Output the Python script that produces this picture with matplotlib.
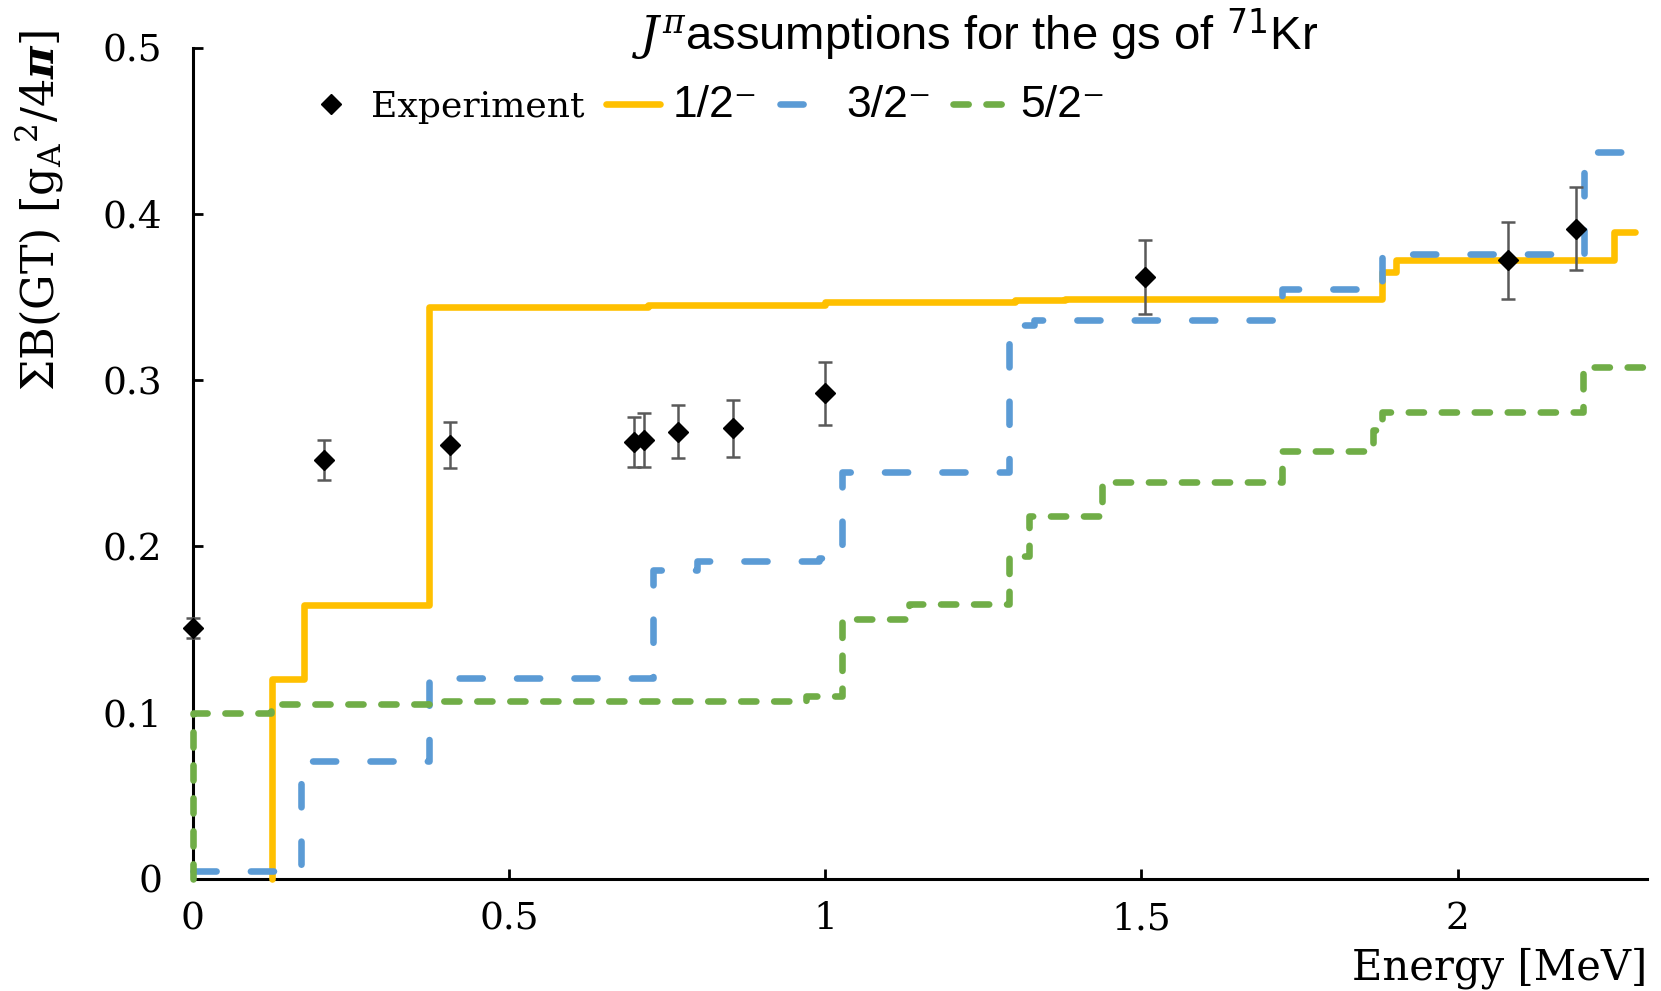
import matplotlib
matplotlib.use("Agg")
import matplotlib.pyplot as plt
from matplotlib.lines import Line2D

# Measured cumulative Gamow-Teller strength
energy_exp = [0.0, 0.208, 0.407, 0.698, 0.713, 0.768, 0.855, 0.999, 1.505, 2.080, 2.187]
bgt_exp = [0.151, 0.252, 0.261, 0.263, 0.264, 0.269, 0.271, 0.292, 0.362, 0.372, 0.391]
err_exp = [0.006, 0.012, 0.014, 0.015, 0.016, 0.016, 0.017, 0.019, 0.022, 0.023, 0.025]

# Shell-model cumulative strength for each ground-state spin assumption
energy_half = [0.125, 0.125, 0.176, 0.373, 0.72, 1.00, 1.30, 1.38, 1.88, 1.903, 2.247, 2.28]
bgt_half = [0.0, 0.120, 0.165, 0.344, 0.345, 0.347, 0.348, 0.349, 0.365, 0.372, 0.389, 0.389]

energy_3half = [0.0, 0.171, 0.373, 0.727, 0.797, 0.99, 1.027, 1.29, 1.33, 1.722, 1.88, 2.20, 2.275]
bgt_3half = [0.005, 0.071, 0.121, 0.186, 0.191, 0.193, 0.245, 0.333, 0.336, 0.355, 0.376, 0.437, 0.437]

energy_5half = [0.0, 0.0, 0.123, 0.373, 0.969, 1.027, 1.132, 1.29, 1.323, 1.438, 1.723, 1.866, 1.88, 2.198, 2.298]
bgt_5half = [0.0, 0.100, 0.105, 0.107, 0.110, 0.156, 0.1655, 0.194, 0.218, 0.2386, 0.2575, 0.270, 0.281, 0.308, 0.308]

x_ticks = [0, 0.5, 1, 1.5, 2]
x_tick_labels = ["0", "0.5", "1", "1.5", "2"]
y_ticks = [0, 0.1, 0.2, 0.3, 0.4, 0.5]
y_tick_labels = ["0", "0.1", "0.2", "0.3", "0.4", "0.5"]

legend_labels = ["Experiment", "1/2\u207b", "3/2\u207b", "5/2\u207b"]

plt.rcParams["font.family"] = ["DejaVu Serif"]
plt.rcParams["mathtext.fontset"] = "dejavuserif"

fig = plt.figure(figsize=(16.61, 9.91), dpi=100)
ax = fig.add_axes([0.1161, 0.1132, 0.8756, 0.8387])

lw = 4.75
yellow, blue, green = "#FFC000", "#5B9BD5", "#70AD47"

l_half, = ax.plot(energy_half, bgt_half, drawstyle="steps-post", color=yellow, lw=lw,
                  solid_capstyle="round", zorder=3, clip_on=False)
l_3half, = ax.plot(energy_3half, bgt_3half, drawstyle="steps-post", color=blue, lw=lw,
                   dashes=(3.5, 5.2), dash_capstyle="round", zorder=3.1, clip_on=False)
l_5half, = ax.plot(energy_5half, bgt_5half, drawstyle="steps-post", color=green, lw=lw,
                   dashes=(2.3, 2.7), dash_capstyle="round", zorder=3.2, clip_on=False)

eb = ax.errorbar(energy_exp, bgt_exp, yerr=err_exp, fmt="D", color="black", ms=10.5,
                 ecolor="#595959", elinewidth=1.8, capsize=5, capthick=1.8, zorder=4)
eb[0].set_clip_on(False)
for art in list(eb[1]) + list(eb[2]):
    art.set_clip_on(False)

ax.set_xlim(0, 2.3)
ax.set_ylim(0, 0.5)
ax.set_xticks(x_ticks)
ax.set_xticklabels(x_tick_labels)
ax.set_yticks(y_ticks)
ax.set_yticklabels(y_tick_labels)

for side in ("top", "right"):
    ax.spines[side].set_visible(False)
for side in ("left", "bottom"):
    ax.spines[side].set_linewidth(2.2)
    ax.spines[side].set_color("black")
    ax.spines[side].set_zorder(2)

ax.tick_params(axis="both", direction="in", length=7, width=2, labelsize=27)
ax.tick_params(axis="x", pad=16)
ax.tick_params(axis="y", pad=22)

ax.set_xlabel("Energy [MeV]", fontsize=30, ha="right", va="top")
ax.xaxis.set_label_coords(1.0, -0.082)
ax.set_ylabel(r"$\Sigma$B(GT) [g$_{\mathrm{A}}{}^{2}$/4$\boldsymbol{\pi}$]", fontsize=32)
ax.yaxis.set_label_coords(-0.087, 0.804)

fig.text(0.5873, 0.9647, r"$J^{\pi}$assumptions for the gs of $^{\mathsf{71}}$Kr",
         fontsize=34, family="Liberation Sans", ha="center", va="center")

exp_handle = Line2D([], [], marker="D", color="black", ls="none", ms=10.5)
leg = ax.legend([exp_handle, l_half, l_3half, l_5half], legend_labels, ncol=4,
                frameon=False, loc="center left", bbox_to_anchor=(0.054, 0.931),
                handlelength=1.5, handletextpad=0.35, columnspacing=0.6, fontsize=26)
for t in leg.get_texts()[1:]:
    t.set_family(["Liberation Sans", "DejaVu Sans"])
    t.set_fontsize(32)

fig.savefig("out.png", dpi=100)
